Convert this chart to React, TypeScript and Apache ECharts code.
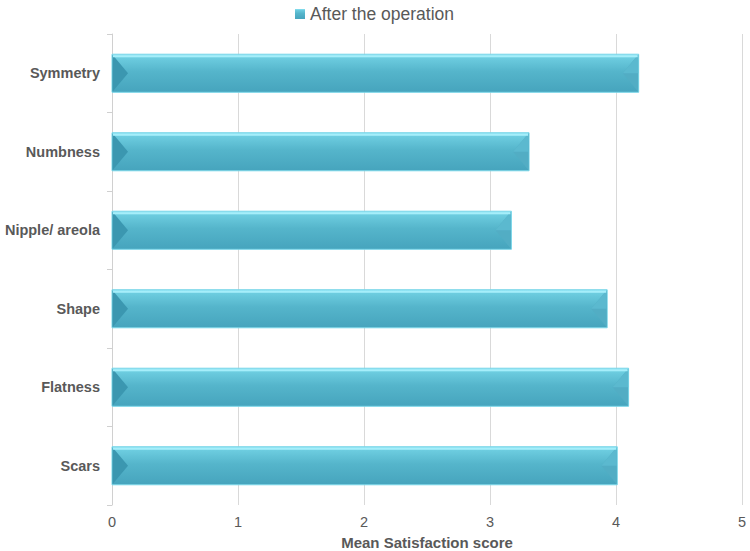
import React, { useEffect, useRef } from "react";
import * as echarts from "echarts";

const categories = ["Scars", "Flatness", "Shape", "Nipple/ areola", "Numbness", "Symmetry"];
const afterValues = [4.01, 4.1, 3.93, 3.17, 3.31, 4.18];
const xTicks = [0, 1, 2, 3, 4, 5];
const seriesName = "After the operation";

const FONT = "'Liberation Sans', Arial, sans-serif";
const GREY = "#595959";

export default function App() {
  const ref = useRef<HTMLDivElement>(null);
  useEffect(() => {
    if (!ref.current) return;
    const chart = echarts.init(ref.current, null, { renderer: "svg" });
    const barGrad = new echarts.graphic.LinearGradient(0, 0, 0, 1, [
      { offset: 0, color: "#92e6f5" },
      { offset: 0.1, color: "#6cccdf" },
      { offset: 0.45, color: "#55b5cb" },
      { offset: 1, color: "#46a4bd" },
    ]);
    const data = afterValues.map((v, i) => [v, i]);
    chart.setOption({
      animation: false,
      textStyle: { fontFamily: FONT },
      legend: {
        data: [seriesName],
        left: 290,
        top: 0,
        icon: "rect",
        itemWidth: 10,
        itemHeight: 10,
        itemGap: 4,
        textStyle: { fontSize: 17.5, color: GREY, fontFamily: FONT },
      },
      grid: {
        left: 112,
        right: 8,
        top: 34,
        bottom: 46,
        containLabel: false,
        outerBoundsMode: "none",
      },
      xAxis: {
        type: "value",
        min: xTicks[0],
        max: xTicks[xTicks.length - 1],
        interval: 1,
        name: "Mean Satisfaction score",
        nameLocation: "middle",
        nameGap: 30,
        nameTextStyle: { fontSize: 15, fontWeight: "bold", color: GREY, fontFamily: FONT },
        axisLine: { show: false },
        axisTick: { show: false },
        axisLabel: { fontSize: 14.5, color: GREY, margin: 9, fontFamily: FONT },
        splitLine: { show: true, lineStyle: { color: "#d9d9d9", width: 1 } },
      },
      yAxis: {
        type: "category",
        data: categories,
        axisLine: { show: true, lineStyle: { color: "#d0d0d0", width: 1 } },
        axisTick: { show: true, length: 5, lineStyle: { color: "#d0d0d0" } },
        axisLabel: { fontSize: 14.5, fontWeight: "bold", color: GREY, margin: 12, fontFamily: FONT },
        splitLine: { show: false },
      },
      series: [
        {
          type: "custom",
          name: seriesName,
          itemStyle: { color: barGrad },
          encode: { x: 0, y: 1 },
          data,
          renderItem: (params: any, api: any) => {
            const v = api.value(0);
            const idx = api.value(1);
            const start = api.coord([0, idx]);
            const end = api.coord([v, idx]);
            const band = api.size([0, 1])[1];
            const h = band * 0.485;
            const x0 = start[0];
            const x1 = end[0];
            const y0 = start[1] - h / 2;
            const y1 = start[1] + h / 2;
            const ym = start[1];
            const bev = 16;
            return {
              type: "group",
              children: [
                {
                  type: "rect",
                  shape: { x: x0, y: y0, width: x1 - x0, height: h },
                  style: { fill: barGrad, stroke: "#7ad6e8", lineWidth: 1 },
                },
                {
                  type: "polygon",
                  shape: { points: [[x0 + 0.5, y0 + 0.5], [x0 + bev, ym], [x0 + 0.5, y1 - 0.5]] },
                  style: { fill: "#3b97b0" },
                },
                {
                  type: "polygon",
                  shape: { points: [[x1 - 0.5, y0 + 0.5], [x1 - bev, ym], [x1 - 0.5, y1 - 0.5]] },
                  style: { fill: "#52adc4" },
                },
                {
                  type: "polygon",
                  shape: { points: [[x1 - 0.5, y0 + 0.5], [x1 - bev, ym], [x1 - 0.5, ym]] },
                  style: { fill: "#5bb9cf" },
                },
                {
                  type: "line",
                  shape: { x1: x0 + 1, y1: y0 + 2, x2: x1 - 1, y2: y0 + 2 },
                  style: { stroke: "#a6eefa", lineWidth: 2 },
                },
              ],
            };
          },
        },
      ],
    });
    return () => chart.dispose();
  }, []);
  return <div ref={ref} style={{ width: 750, height: 551, position: "absolute", left: 0, top: 0 }} />;
}
